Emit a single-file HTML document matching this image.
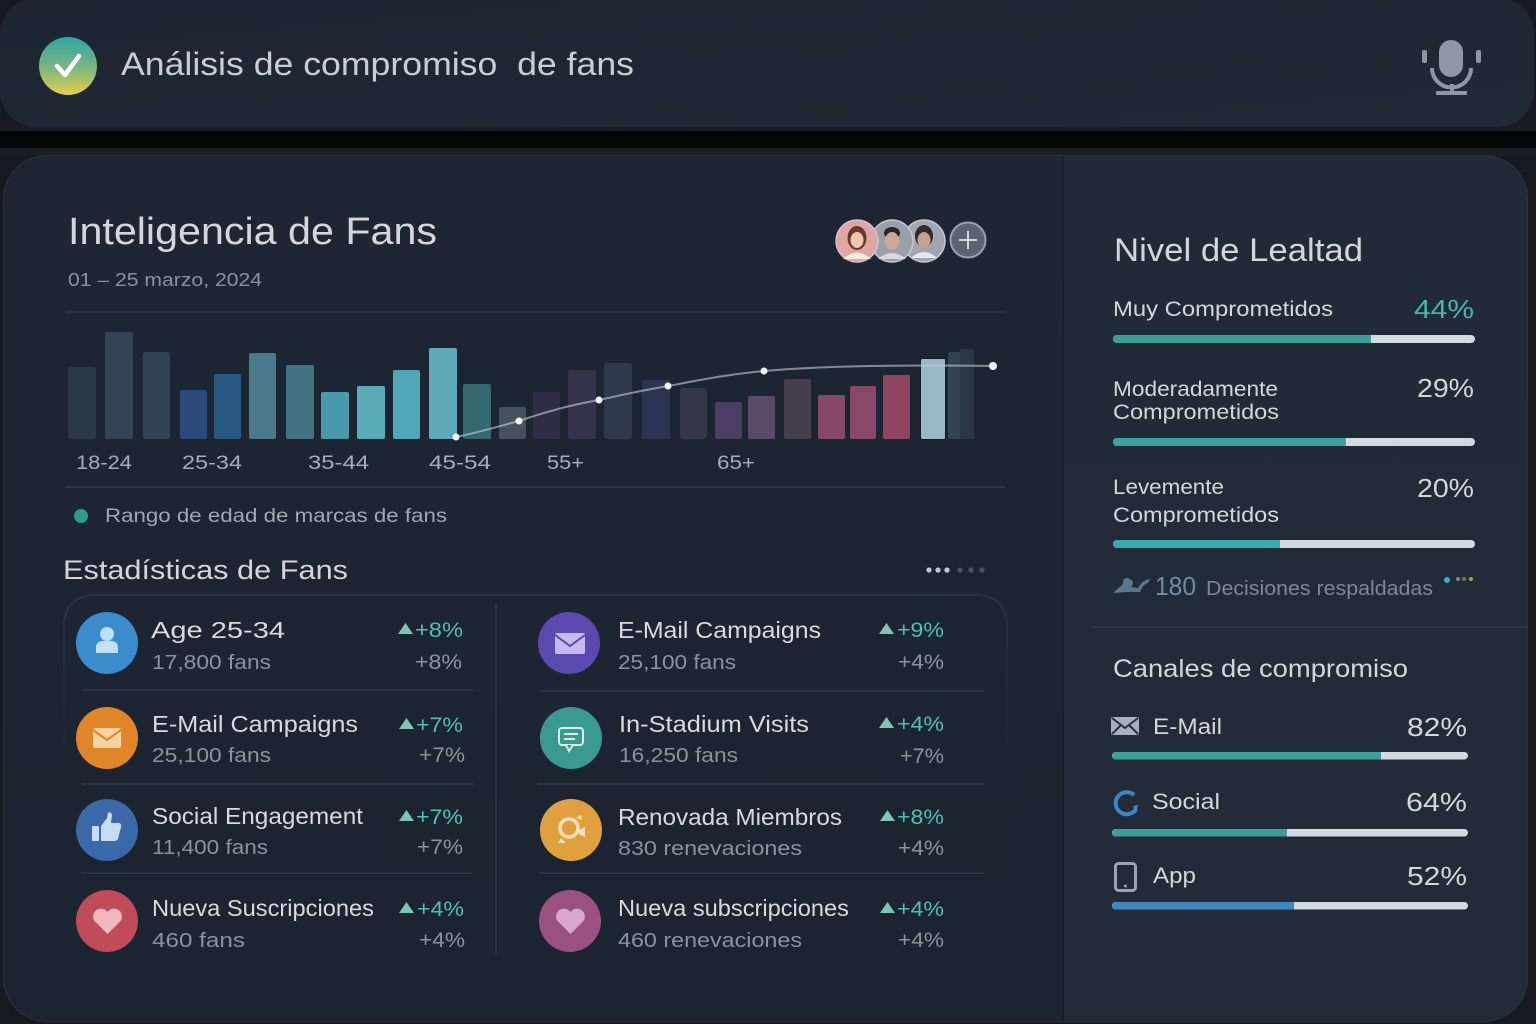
<!DOCTYPE html>
<html>
<head>
<meta charset="utf-8">
<style>
  html,body{margin:0;padding:0;background:#15191f;}
  svg{display:block;}
  text{font-family:"Liberation Sans", sans-serif;}
</style>
</head>
<body>
<svg width="1536" height="1024" viewBox="0 0 1536 1024" xmlns="http://www.w3.org/2000/svg">
  <defs>
    <linearGradient id="chk" x1="0" y1="0" x2="0" y2="1">
      <stop offset="0" stop-color="#2fa6a4"/>
      <stop offset="0.55" stop-color="#7fb77c"/>
      <stop offset="1" stop-color="#e6cd4a"/>
    </linearGradient>
    <linearGradient id="hdr" x1="0" y1="0" x2="1" y2="1">
      <stop offset="0" stop-color="#1d2631"/>
      <stop offset="1" stop-color="#1f2a36"/>
    </linearGradient>
    <linearGradient id="leftp" x1="0" y1="0" x2="0" y2="1">
      <stop offset="0" stop-color="#1d2632"/>
      <stop offset="1" stop-color="#1b2430"/>
    </linearGradient>
    <linearGradient id="rightp" x1="0" y1="0" x2="0" y2="1">
      <stop offset="0" stop-color="#212b37"/>
      <stop offset="1" stop-color="#222c38"/>
    </linearGradient>
    <linearGradient id="sidefade" x1="0" y1="595" x2="0" y2="760" gradientUnits="userSpaceOnUse">
      <stop offset="0" stop-color="#29333f" stop-opacity="1"/>
      <stop offset="1" stop-color="#29333f" stop-opacity="0"/>
    </linearGradient>
    <clipPath id="cardclip">
      <rect x="3" y="155" width="1525" height="867" rx="44" ry="44"/>
    </clipPath>
  </defs>

  <!-- outer background -->
  <rect x="0" y="0" width="1536" height="1024" fill="#171b21"/>

  <!-- header -->
  <rect x="0" y="-2" width="1534" height="129" rx="36" ry="36" fill="url(#hdr)"/>
  <rect x="0" y="127" width="1536" height="4" fill="#1b1f25"/>
  <rect x="0" y="131" width="1536" height="17" fill="#050607"/>
  <rect x="0" y="148" width="1536" height="8" fill="#1a1d22"/>

  <circle cx="68" cy="66" r="29" fill="url(#chk)"/>
  <polyline points="57,66 65,75 79,56" fill="none" stroke="#ffffff" stroke-width="4.5" stroke-linecap="round" stroke-linejoin="round"/>
  <text x="121" y="75" font-size="32" fill="#c9cdd5" textLength="513" lengthAdjust="spacingAndGlyphs">Análisis de compromiso&#160; de fans</text>

  <!-- mic -->
  <g fill="#8e97a5">
    <rect x="1439" y="40" width="24" height="37" rx="12"/>
    <rect x="1422" y="50" width="5" height="13" rx="2"/>
    <rect x="1476" y="50" width="5" height="13" rx="2"/>
    <rect x="1436" y="91" width="31" height="4" rx="1"/>
    <rect x="1450" y="84" width="4" height="8"/>
  </g>
  <path d="M1432 68 A19.5 19.5 0 0 0 1471 68" fill="none" stroke="#8e97a5" stroke-width="4"/>

  <!-- main card -->
  <g clip-path="url(#cardclip)">
    <rect x="3" y="155" width="1525" height="867" fill="url(#leftp)"/>
    <rect x="1063" y="155" width="465" height="867" fill="url(#rightp)"/>
    <rect x="1062" y="155" width="2" height="867" fill="#18202a"/>
  </g>
  <rect x="3.5" y="155.5" width="1524" height="866" rx="44" ry="44" fill="none" stroke="#283341" stroke-width="1"/>

  <!-- Title -->
  <text x="68" y="244" font-size="38" fill="#d3d7dd" textLength="369" lengthAdjust="spacingAndGlyphs">Inteligencia de Fans</text>
  <text x="68" y="286" font-size="18" fill="#8a929c" textLength="194" lengthAdjust="spacingAndGlyphs">01 – 25 marzo, 2024</text>

  <!-- avatars -->
  <g>
    <circle cx="924" cy="241" r="21" fill="#a2a6b2" stroke="#c4c8d0" stroke-width="1.5"/>
    <ellipse cx="924" cy="236" rx="9" ry="11" fill="#2e2a2e"/>
    <ellipse cx="924" cy="240" rx="6.5" ry="8" fill="#c9a08c"/>
    <path d="M911 258 q13 -12 26 0 z" fill="#e8e8ee"/>
    <circle cx="892" cy="241" r="21" fill="#9aa0aa" stroke="#c4c8d0" stroke-width="1.5"/>
    <ellipse cx="892" cy="233" rx="8" ry="6" fill="#2a2628"/>
    <ellipse cx="892" cy="241" rx="7" ry="9" fill="#d2a898"/>
    <path d="M878 259 q14 -12 28 0 z" fill="#d8d8de"/>
    <circle cx="857" cy="241" r="21" fill="#e3a4a4" stroke="#c4c8d0" stroke-width="1.5"/>
    <ellipse cx="857" cy="238" rx="9.5" ry="12" fill="#6a3a2c"/>
    <ellipse cx="857" cy="240" rx="6.5" ry="8" fill="#f0c8b0"/>
    <path d="M843 259 q14 -13 28 0 z" fill="#f3ecd8"/>
    <circle cx="968" cy="240" r="17.5" fill="#5b6571" stroke="#9aa2ad" stroke-width="2"/>
    <path d="M968 231 V249 M959 240 H977" stroke="#d4d8de" stroke-width="2"/>
  </g>

  <line x1="65" y1="312" x2="1005" y2="312" stroke="#28323e" stroke-width="2"/>

  <!-- bars -->
  <g>
    <rect x="68" y="367" width="28" height="72" rx="2" fill="#2a3845"/>
    <rect x="105" y="332" width="28" height="107" rx="2" fill="#334455"/>
    <rect x="143" y="352" width="27" height="87" rx="2" fill="#314252"/>
    <rect x="180" y="390" width="27" height="49" rx="2" fill="#2a4a7a"/>
    <rect x="214" y="374" width="27" height="65" rx="2" fill="#285880"/>
    <rect x="249" y="353" width="27" height="86" rx="2" fill="#4a7a8a"/>
    <rect x="286" y="365" width="28" height="74" rx="2" fill="#437383"/>
    <rect x="321" y="392" width="28" height="47" rx="2" fill="#4b9aac"/>
    <rect x="357" y="386" width="28" height="53" rx="2" fill="#5aaab8"/>
    <rect x="393" y="370" width="27" height="69" rx="2" fill="#4fa6b6"/>
    <rect x="429" y="348" width="28" height="91" rx="2" fill="#5da9b8"/>
    <rect x="463" y="384" width="28" height="55" rx="2" fill="#336870"/>
    <rect x="499" y="407" width="27" height="32" rx="2" fill="#45525c"/>
    <rect x="533" y="392" width="27" height="47" rx="2" fill="#302e46"/>
    <rect x="568" y="370" width="28" height="69" rx="2" fill="#36344a"/>
    <rect x="604" y="363" width="28" height="76" rx="3" fill="#2e3a4a"/>
    <rect x="642" y="380" width="28" height="59" rx="2" fill="#2b3552"/>
    <rect x="680" y="388" width="27" height="51" rx="3" fill="#333846"/>
    <rect x="715" y="402" width="27" height="37" rx="2" fill="#4b3f64"/>
    <rect x="748" y="396" width="27" height="43" rx="2" fill="#5a4a6a"/>
    <rect x="784" y="379" width="27" height="60" rx="2" fill="#463f4e"/>
    <rect x="818" y="395" width="27" height="44" rx="2" fill="#874868"/>
    <rect x="850" y="386" width="26" height="53" rx="2" fill="#884868"/>
    <rect x="883" y="375" width="27" height="64" rx="2" fill="#8e4660"/>
    <rect x="920" y="358" width="26" height="82" rx="1" fill="#15191f"/>
    <rect x="921" y="359" width="24" height="80" rx="1" fill="#98b8c6"/>
    <rect x="948" y="352" width="14" height="87" rx="2" fill="#33424f"/>
    <rect x="960" y="349" width="14" height="90" rx="2" fill="#2a3845"/>
  </g>
  <!-- trend line -->
  <path d="M456 437 C480 432, 500 426, 519 421 C545 412, 570 405, 599 400 C625 394, 645 390, 668 386 C700 380, 730 374, 764 371 C830 365, 920 365, 993 366" fill="none" stroke="#c7cfd8" stroke-opacity="0.6" stroke-width="2"/>
  <g fill="#f2f4f6">
    <circle cx="456" cy="437" r="3.5"/>
    <circle cx="519" cy="421" r="3.5"/>
    <circle cx="599" cy="400" r="3.5"/>
    <circle cx="668" cy="386" r="3.5"/>
    <circle cx="764" cy="371" r="3.5"/>
    <circle cx="993" cy="366" r="4"/>
  </g>

  <!-- axis labels -->
  <g font-size="19" fill="#a6aeb8">
    <text x="76" y="469" textLength="56" lengthAdjust="spacingAndGlyphs">18-24</text>
    <text x="182" y="469" textLength="60" lengthAdjust="spacingAndGlyphs">25-34</text>
    <text x="308" y="469" textLength="61" lengthAdjust="spacingAndGlyphs">35-44</text>
    <text x="429" y="469" textLength="62" lengthAdjust="spacingAndGlyphs">45-54</text>
    <text x="547" y="469" textLength="37" lengthAdjust="spacingAndGlyphs">55+</text>
    <text x="717" y="469" textLength="38" lengthAdjust="spacingAndGlyphs">65+</text>
  </g>
  <line x1="65" y1="487" x2="1005" y2="487" stroke="#2d3845" stroke-width="2"/>

  <!-- legend -->
  <circle cx="81" cy="516" r="7" fill="#2a9d8f"/>
  <text x="105" y="522" font-size="19" fill="#a0a8b2" textLength="342" lengthAdjust="spacingAndGlyphs">Rango de edad de marcas de fans</text>

  <!-- Estadísticas -->
  <text x="63" y="579" font-size="27" fill="#d3d7dd" textLength="285" lengthAdjust="spacingAndGlyphs">Estadísticas de Fans</text>
  <g>
    <circle cx="929" cy="570" r="2.6" fill="#c4cad2"/>
    <circle cx="938" cy="570" r="2.6" fill="#c4cad2"/>
    <circle cx="947" cy="570" r="2.6" fill="#c4cad2"/>
    <circle cx="960" cy="570" r="2.6" fill="#4a5460"/>
    <circle cx="971" cy="570" r="2.6" fill="#4a5460"/>
    <circle cx="982" cy="570" r="2.6" fill="#4a5460"/>
  </g>

  <!-- stats container -->
  <path d="M96 595 H975" fill="none" stroke="#29333f" stroke-width="2"/>
  <path d="M64 760 V628 Q64 595 96 595 M975 595 Q1007 595 1007 627 V760" fill="none" stroke="url(#sidefade)" stroke-width="2"/>
  <line x1="496" y1="603" x2="496" y2="953" stroke="#2a3440" stroke-width="2"/>
  <g stroke="#29333f" stroke-width="2">
    <line x1="82" y1="690" x2="473" y2="690"/>
    <line x1="82" y1="784" x2="473" y2="784"/>
    <line x1="81" y1="873" x2="472" y2="873"/>
    <line x1="540" y1="691" x2="984" y2="691"/>
    <line x1="537" y1="784" x2="984" y2="784"/>
    <line x1="539" y1="873" x2="984" y2="873"/>
  </g>

  <!-- left column icons -->
  <circle cx="107" cy="643" r="31" fill="#3a8ccc"/>
  <circle cx="107" cy="634" r="7" fill="#c0e0f4"/>
  <path d="M96 653 V648 Q96 641 103 641 H111 Q118 641 118 648 V653 Z" fill="#c0e0f4"/>

  <circle cx="107" cy="738" r="31" fill="#e0852a"/>
  <rect x="93" y="728" width="28" height="20" rx="2" fill="#f6d4a6"/>
  <polyline points="93,730 107,740 121,730" fill="none" stroke="#e0852a" stroke-width="2"/>

  <circle cx="107" cy="830" r="31" fill="#3a68a8"/>
  <rect x="92" y="826" width="7" height="15" rx="1" fill="#c9ddf2"/>
  <path d="M101 826 L107 818 L108 813 Q111 811 112 815 L111 823 H119 Q122 824 121 827 L118 839 Q117 841 114 841 H101 Z" fill="#c9ddf2"/>

  <circle cx="107" cy="921" r="31" fill="#c04c5a"/>
  <path d="M107.5 934 L94.5 921 A7.6 7.6 0 0 1 107.5 912 A7.6 7.6 0 0 1 120.5 921 Z" fill="#f2b8c0"/>

  <!-- right column icons -->
  <circle cx="569" cy="643" r="31" fill="#5a4ab0"/>
  <rect x="555" y="633" width="30" height="21" rx="2" fill="#c8b8f0"/>
  <polyline points="555,635 570,646 585,635" fill="none" stroke="#5a4ab0" stroke-width="2"/>

  <circle cx="571" cy="738" r="31" fill="#3a9a90"/>
  <rect x="559" y="728" width="24" height="17" rx="3" fill="none" stroke="#d8efe9" stroke-width="2"/>
  <path d="M566 745 L569 751 L573 745" fill="#3a9a90" stroke="#d8efe9" stroke-width="2"/>
  <line x1="564" y1="734" x2="578" y2="734" stroke="#d8efe9" stroke-width="2"/>
  <line x1="564" y1="739" x2="575" y2="739" stroke="#d8efe9" stroke-width="2"/>

  <circle cx="571" cy="830" r="31" fill="#e0a040"/>
  <circle cx="569" cy="828" r="9" fill="none" stroke="#f8e0b8" stroke-width="3.5"/>
  <path d="M576 818 l5 -3 l1 5 z" fill="#f8e0b8"/>
  <path d="M561 838 l-3 5 h8 z" fill="#f8e0b8"/>
  <path d="M579 830 l6 -3 v10 l-6 -3 z" fill="#f8e0b8"/>

  <circle cx="570" cy="921" r="31" fill="#9a5080"/>
  <path d="M570.5 934 L557.5 921 A7.6 7.6 0 0 1 570.5 912 A7.6 7.6 0 0 1 583.5 921 Z" fill="#d8a8cc"/>

  <!-- triangles -->
  <g fill="#7fc4b4">
    <polygon points="398,634 405.5,623 413,634"/>
    <polygon points="399,729 406.5,718 414,729"/>
    <polygon points="399,821 406.5,810 414,821"/>
    <polygon points="399,913 406.5,902 414,913"/>
    <polygon points="879,634 886.5,623 894,634"/>
    <polygon points="879,728 886.5,717 894,728"/>
    <polygon points="880,821 887.5,810 895,821"/>
    <polygon points="880,913 887.5,902 895,913"/>
  </g>

  <!-- texts -->
  <g font-size="23" fill="#d7dbe1">
    <text x="151" y="638" textLength="134" lengthAdjust="spacingAndGlyphs">Age 25-34</text>
    <text x="152" y="732" textLength="206" lengthAdjust="spacingAndGlyphs">E-Mail Campaigns</text>
    <text x="152" y="824" textLength="211" lengthAdjust="spacingAndGlyphs">Social Engagement</text>
    <text x="152" y="916" textLength="222" lengthAdjust="spacingAndGlyphs">Nueva Suscripciones</text>
    <text x="618" y="638" textLength="203" lengthAdjust="spacingAndGlyphs">E-Mail Campaigns</text>
    <text x="619" y="732" textLength="190" lengthAdjust="spacingAndGlyphs">In-Stadium Visits</text>
    <text x="618" y="825" textLength="224" lengthAdjust="spacingAndGlyphs">Renovada Miembros</text>
    <text x="618" y="916" textLength="231" lengthAdjust="spacingAndGlyphs">Nueva subscripciones</text>
  </g>
  <g font-size="20" fill="#8b939d">
    <text x="152" y="669" textLength="119" lengthAdjust="spacingAndGlyphs">17,800 fans</text>
    <text x="152" y="762" textLength="119" lengthAdjust="spacingAndGlyphs">25,100 fans</text>
    <text x="152" y="854" textLength="116" lengthAdjust="spacingAndGlyphs">11,400 fans</text>
    <text x="152" y="947" textLength="93" lengthAdjust="spacingAndGlyphs">460 fans</text>
    <text x="618" y="669" textLength="118" lengthAdjust="spacingAndGlyphs">25,100 fans</text>
    <text x="619" y="762" textLength="119" lengthAdjust="spacingAndGlyphs">16,250 fans</text>
    <text x="618" y="855" textLength="184" lengthAdjust="spacingAndGlyphs">830 renevaciones</text>
    <text x="618" y="947" textLength="184" lengthAdjust="spacingAndGlyphs">460 renevaciones</text>
  </g>
  <g font-size="21" fill="#4fc1b1">
    <text x="415" y="637" textLength="48" lengthAdjust="spacingAndGlyphs">+8%</text>
    <text x="416" y="732" textLength="47" lengthAdjust="spacingAndGlyphs">+7%</text>
    <text x="416" y="824" textLength="47" lengthAdjust="spacingAndGlyphs">+7%</text>
    <text x="417" y="916" textLength="47" lengthAdjust="spacingAndGlyphs">+4%</text>
    <text x="897" y="637" textLength="47" lengthAdjust="spacingAndGlyphs">+9%</text>
    <text x="897" y="731" textLength="47" lengthAdjust="spacingAndGlyphs">+4%</text>
    <text x="897" y="824" textLength="47" lengthAdjust="spacingAndGlyphs">+8%</text>
    <text x="897" y="916" textLength="47" lengthAdjust="spacingAndGlyphs">+4%</text>
  </g>
  <g font-size="21" fill="#8b939d">
    <text x="415" y="669" textLength="47" lengthAdjust="spacingAndGlyphs">+8%</text>
    <text x="419" y="762" textLength="46" lengthAdjust="spacingAndGlyphs">+7%</text>
    <text x="417" y="854" textLength="46" lengthAdjust="spacingAndGlyphs">+7%</text>
    <text x="419" y="947" textLength="46" lengthAdjust="spacingAndGlyphs">+4%</text>
    <text x="898" y="669" textLength="46" lengthAdjust="spacingAndGlyphs">+4%</text>
    <text x="900" y="763" textLength="44" lengthAdjust="spacingAndGlyphs">+7%</text>
    <text x="898" y="855" textLength="46" lengthAdjust="spacingAndGlyphs">+4%</text>
    <text x="898" y="947" textLength="46" lengthAdjust="spacingAndGlyphs">+4%</text>
  </g>

  <!-- RIGHT PANEL -->
  <text x="1114" y="261" font-size="32" fill="#d3d7dd" textLength="249" lengthAdjust="spacingAndGlyphs">Nivel de Lealtad</text>

  <text x="1113" y="316" font-size="21" fill="#d3d7dd" textLength="220" lengthAdjust="spacingAndGlyphs">Muy Comprometidos</text>
  <text x="1414" y="318" font-size="26" fill="#4ab5aa" textLength="60" lengthAdjust="spacingAndGlyphs">44%</text>
  <rect x="1113" y="335" width="362" height="8" rx="4" fill="#d3d9e0"/>
  <path d="M1117 335 H1371 V343 H1117 A4 4 0 0 1 1117 335 Z" fill="#3a9f98"/>

  <text x="1113" y="396" font-size="21" fill="#d3d7dd" textLength="165" lengthAdjust="spacingAndGlyphs">Moderadamente</text>
  <text x="1113" y="419" font-size="21" fill="#d3d7dd" textLength="166" lengthAdjust="spacingAndGlyphs">Comprometidos</text>
  <text x="1417" y="397" font-size="26" fill="#d3d7dd" textLength="57" lengthAdjust="spacingAndGlyphs">29%</text>
  <rect x="1113" y="438" width="362" height="8" rx="4" fill="#d3d9e0"/>
  <path d="M1117 438 H1346 V446 H1117 A4 4 0 0 1 1117 438 Z" fill="#3aa2a0"/>

  <text x="1113" y="494" font-size="21" fill="#d3d7dd" textLength="111" lengthAdjust="spacingAndGlyphs">Levemente</text>
  <text x="1113" y="522" font-size="21" fill="#d3d7dd" textLength="166" lengthAdjust="spacingAndGlyphs">Comprometidos</text>
  <text x="1417" y="497" font-size="26" fill="#d3d7dd" textLength="57" lengthAdjust="spacingAndGlyphs">20%</text>
  <rect x="1113" y="540" width="362" height="8" rx="4" fill="#d3d9e0"/>
  <path d="M1117 540 H1280 V548 H1117 A4 4 0 0 1 1117 540 Z" fill="#3aacb0"/>

  <!-- 180 decisiones -->
  <path d="M1113 593 L1122 585 Q1126 579 1131 580 Q1135 582 1131 587 L1138 588 Q1142 580 1150 579 L1148 583 Q1143 584 1140 592 L1128 592 Z" fill="#58788e"/>
  <circle cx="1127" cy="582" r="4" fill="#58788e"/>
  <text x="1155" y="595" font-size="26" fill="#6f8da3" textLength="41" lengthAdjust="spacingAndGlyphs">180</text>
  <text x="1206" y="595" font-size="20" fill="#7d8995" textLength="227" lengthAdjust="spacingAndGlyphs">Decisiones respaldadas</text>
  <circle cx="1447" cy="580" r="3" fill="#2bb5d0"/>
  <circle cx="1458" cy="579" r="2" fill="#7a8a90"/>
  <circle cx="1464" cy="579" r="2" fill="#8a6a50"/>
  <circle cx="1471" cy="579" r="2" fill="#a0a060"/>

  <line x1="1092" y1="627" x2="1528" y2="627" stroke="#2c3744" stroke-width="2"/>

  <text x="1113" y="677" font-size="25" fill="#d3d7dd" textLength="295" lengthAdjust="spacingAndGlyphs">Canales de compromiso</text>

  <!-- E-Mail -->
  <rect x="1111" y="717" width="28" height="18" rx="2" fill="#a7b0bc"/>
  <path d="M1112 718 L1125 728 L1138 718 M1112 734 L1121 725 M1138 734 L1129 725" stroke="#2a323c" stroke-width="2" fill="none"/>
  <text x="1153" y="734" font-size="22" fill="#d3d7dd" textLength="69" lengthAdjust="spacingAndGlyphs">E-Mail</text>
  <text x="1407" y="736" font-size="26" fill="#d3d7dd" textLength="60" lengthAdjust="spacingAndGlyphs">82%</text>
  <rect x="1112" y="752" width="356" height="7.5" rx="3.75" fill="#d3d9e0"/>
  <path d="M1116 752 H1381 V759.5 H1116 A3.75 3.75 0 0 1 1116 752 Z" fill="#3a9f98"/>

  <!-- Social -->
  <path d="M1134 795 A11 11 0 1 0 1136 809" fill="none" stroke="#3e86c4" stroke-width="4"/>
  <path d="M1133 806 L1138 805 L1136 814 Z" fill="#3e86c4"/>
  <text x="1152" y="809" font-size="22" fill="#d3d7dd" textLength="68" lengthAdjust="spacingAndGlyphs">Social</text>
  <text x="1406" y="811" font-size="26" fill="#d3d7dd" textLength="61" lengthAdjust="spacingAndGlyphs">64%</text>
  <rect x="1112" y="829" width="356" height="7.5" rx="3.75" fill="#d3d9e0"/>
  <path d="M1116 829 H1287 V836.5 H1116 A3.75 3.75 0 0 1 1116 829 Z" fill="#3a9f98"/>

  <!-- App -->
  <rect x="1115.5" y="863.5" width="20" height="27" rx="3" fill="none" stroke="#9aa3b0" stroke-width="3"/>
  <circle cx="1125.5" cy="886" r="1.5" fill="#9aa3b0"/>
  <text x="1153" y="883" font-size="22" fill="#d3d7dd" textLength="43" lengthAdjust="spacingAndGlyphs">App</text>
  <text x="1407" y="885" font-size="26" fill="#d3d7dd" textLength="60" lengthAdjust="spacingAndGlyphs">52%</text>
  <rect x="1112" y="902" width="356" height="7.5" rx="3.75" fill="#d3d9e0"/>
  <path d="M1116 902 H1294 V909.5 H1116 A3.75 3.75 0 0 1 1116 902 Z" fill="#3d86bf"/>
</svg>
</body>
</html>
